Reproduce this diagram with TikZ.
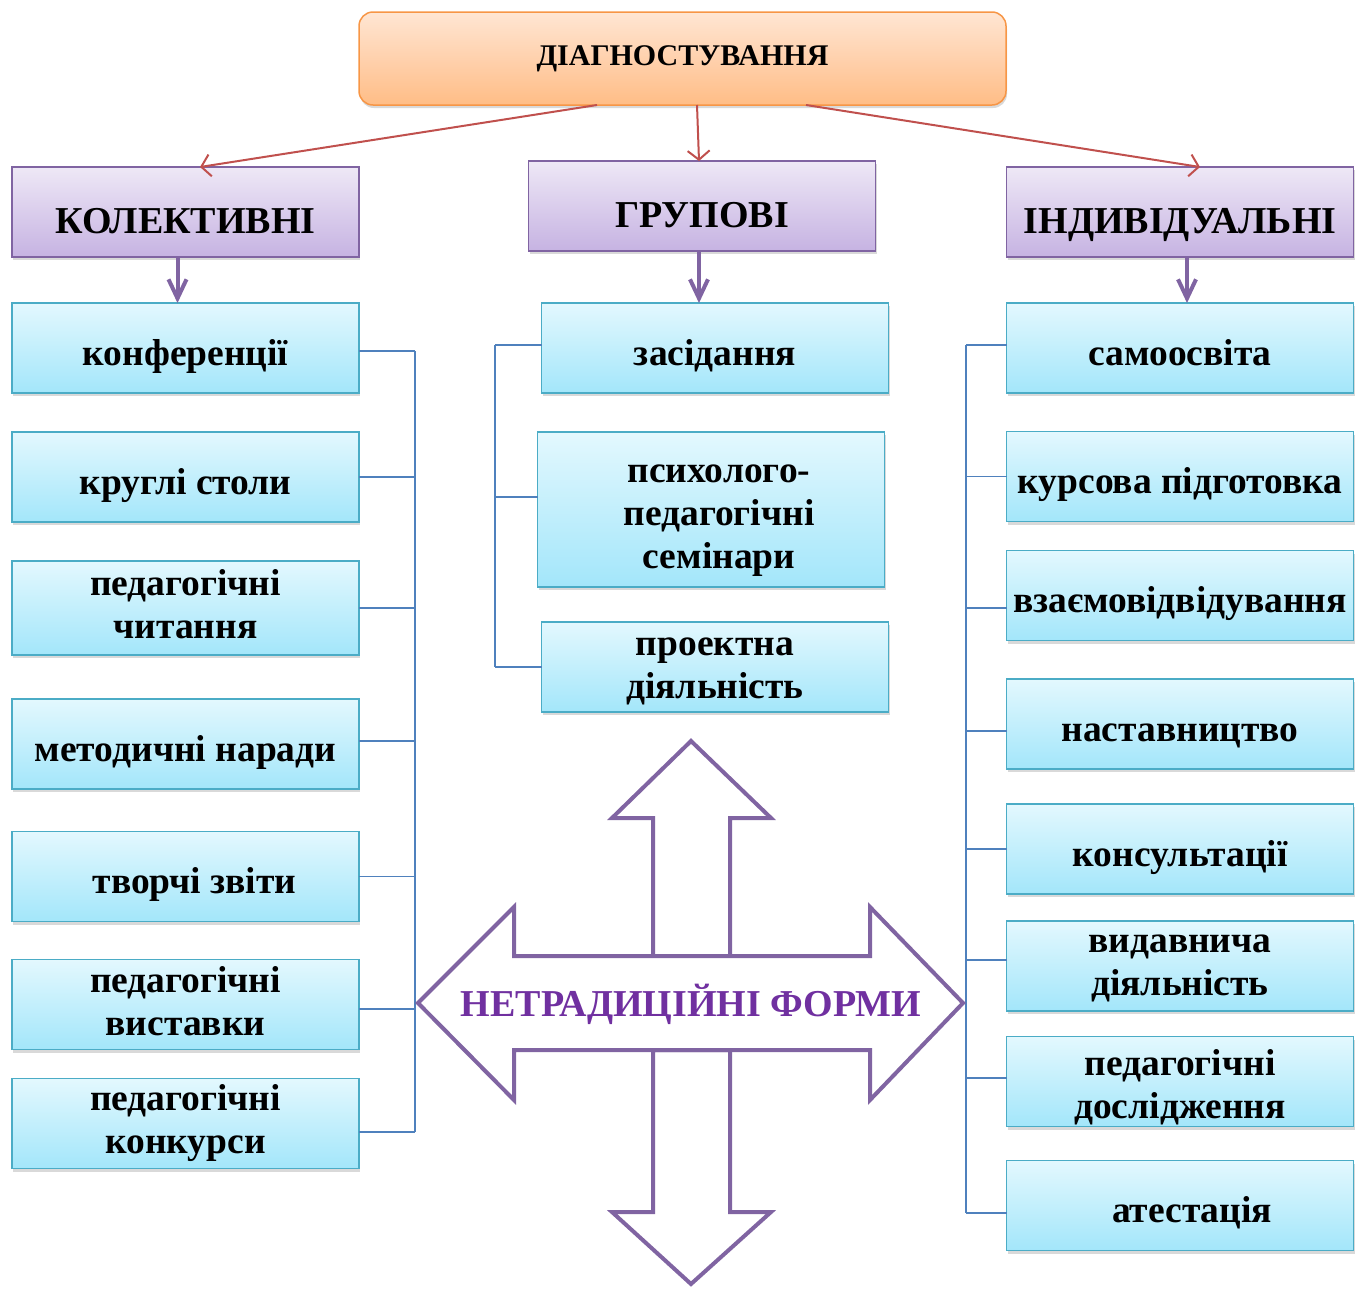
\documentclass[tikz,border=0pt]{standalone}
\usepackage{fontspec}
\setmainfont{Liberation Serif}
\usepackage[HTML]{xcolor}
\usepackage{tikz}
\usetikzlibrary{positioning, arrows.meta, calc, shadows}

\definecolor{aqualine}{HTML}{4BACC6}
\definecolor{aquatop}{HTML}{E3F8FE}
\definecolor{aquabot}{HTML}{A3E6FA}
\definecolor{lilacline}{HTML}{8064A2}
\definecolor{lilactop}{HTML}{EEE8F6}
\definecolor{lilacbot}{HTML}{C6B3E2}
\definecolor{peachline}{HTML}{F79646}
\definecolor{peachtop}{HTML}{FFE6D3}
\definecolor{peachbot}{HTML}{FFBD86}
\definecolor{redline}{HTML}{C0504D}
\definecolor{bracketblue}{HTML}{4F81BD}
\definecolor{netrviolet}{HTML}{7030A0}

\begin{document}
\begin{tikzpicture}[x=1pt,y=-1pt,
  formbox/.style={draw=aqualine, line width=1.5pt, top color=aquatop, bottom color=aquabot,
    minimum width=347pt, minimum height=90pt, inner sep=0pt, outer sep=0pt, align=center,
    font=\bfseries\fontsize{37.5}{43}\selectfont,
    drop shadow={opacity=0.3, shadow xshift=1pt, shadow yshift=-3pt}},
  oneline/.style={text height=34pt, text depth=0pt},
  lastbase/.style={text height=#1, text depth=0pt},
  kindbox/.style={formbox, draw=lilacline, top color=lilactop, bottom color=lilacbot,
    font=\bfseries\fontsize{38}{42}\selectfont, text height=42pt, text depth=0pt},
  topbox/.style={formbox, draw=peachline, top color=peachtop, bottom color=peachbot,
    rounded corners=14pt, minimum width=647pt, minimum height=93pt,
    font=\bfseries\fontsize{30}{34}\selectfont},
  redarrow/.style={draw=redline, line width=2pt, -{Straight Barb[length=9pt,width=22pt]}},
  lilacarrow/.style={draw=lilacline, line width=4pt, -{Straight Barb[length=19pt,width=18pt]}},
  bracket/.style={draw=bracketblue, line width=1.5pt},
  crossline/.style={draw=lilacline, line width=4pt, fill=white, line join=miter}
]
\useasboundingbox (0,0) rectangle (1362,1288);

% top and the three kinds
\node[topbox] (diag) at (682.5,58.5) {ДІАГНОСТУВАННЯ};
\node[kindbox] (kol) at (185.5,212) {КОЛЕКТИВНІ};
\node[kindbox] (grup) at (702,206) {ГРУПОВІ};
\node[kindbox] (ind) at (1180,212) {ІНДИВІДУАЛЬНІ};

\draw[redarrow] ($(diag.south)+(-85.5,0)$) -- ($(kol.north)+(14.5,0)$);
\draw[redarrow] ($(diag.south)+(14.5,0)$) -- ($(grup.north)+(-3,0)$);
\draw[redarrow] ($(diag.south)+(123.5,0)$) -- ($(ind.north)+(20,0)$);

% collective forms
\node[formbox, oneline] (k1) at (185.5,348) {конференції};
\node[formbox, oneline] (k2) at (185.5,477) {круглі столи};
\node[formbox, minimum height=94pt, lastbase=60pt] (k3) at (185.5,608) {педагогічні\\читання};
\node[formbox, oneline] (k4) at (185.5,744) {методичні наради};
\node[formbox, oneline] (k5) at (185.5,876.5) {\hspace*{18pt}творчі звіти};
\node[formbox, lastbase=61pt] (k6) at (185.5,1004.5) {педагогічні\\виставки};
\node[formbox, lastbase=59pt] (k7) at (185.5,1123.5) {педагогічні\\конкурси};

% group forms
\node[formbox, oneline] (g1) at (715,348) {засідання};
\node[formbox, minimum height=155pt, lastbase=117pt] (g2) at (711,509.5) {\hspace*{16pt}психолого-\\\hspace*{16pt}педагогічні\\\hspace*{16pt}семінари};
\node[formbox, lastbase=62pt] (g3) at (715,667) {проектна\\діяльність};

% individual forms
\node[formbox, oneline] (i1) at (1180,348) {самоосвіта};
\node[formbox, oneline] (i2) at (1180,476.5) {курсова підготовка};
\node[formbox, oneline] (i3) at (1180,595.5) {взаємовідвідування};
\node[formbox, oneline] (i4) at (1180,724) {наставництво};
\node[formbox, oneline] (i5) at (1180,849) {консультації};
\node[formbox, lastbase=58pt] (i6) at (1180,966) {видавнича\\діяльність};
\node[formbox, lastbase=73pt] (i7) at (1180,1081.5) {педагогічні\\дослідження};
\node[formbox, oneline] (i8) at (1180,1205.5) {\hspace*{24pt}атестація};

\draw[lilacarrow] ($(kol.south)+(-8,0)$) -- ($(k1.north)+(-8,0)$);
\draw[lilacarrow] ($(grup.south)+(-3,0)$) -- ($(g1.north)+(-16,0)$);
\draw[lilacarrow] ($(ind.south)+(7,0)$) -- ($(i1.north)+(7,0)$);

% brackets
\coordinate (lb) at (415,0);
\coordinate (mb) at (495,0);
\coordinate (rb) at (966,0);

\draw[bracket] ($(k1.east -| lb)+(0,3)$) -- ($(k7.east -| lb)+(0,8.5)$);
\draw[bracket] ($(k1.east)+(0,3)$) -- ($(k1.east -| lb)+(0,3)$);
\draw[bracket] (k2.east) -- (k2.east -| lb);
\draw[bracket] (k3.east) -- (k3.east -| lb);
\draw[bracket] ($(k4.east)+(0,-3)$) -- ($(k4.east -| lb)+(0,-3)$);
\draw[bracket] (k5.east) -- (k5.east -| lb);
\draw[bracket] ($(k6.east)+(0,4.5)$) -- ($(k6.east -| lb)+(0,4.5)$);
\draw[bracket] ($(k7.east)+(0,8.5)$) -- ($(k7.east -| lb)+(0,8.5)$);

\draw[bracket] ($(g1.west -| mb)+(0,-3)$) -- (g3.west -| mb);
\draw[bracket] ($(g1.west)+(0,-3)$) -- ($(g1.west -| mb)+(0,-3)$);
\draw[bracket] ($(g2.west)+(0,-12.5)$) -- ($(g2.west -| mb)+(0,-12.5)$);
\draw[bracket] (g3.west) -- (g3.west -| mb);

\draw[bracket] ($(i1.west -| rb)+(0,-3)$) -- ($(i8.west -| rb)+(0,7.5)$);
\draw[bracket] ($(i1.west)+(0,-3)$) -- ($(i1.west -| rb)+(0,-3)$);
\draw[bracket] (i2.west) -- (i2.west -| rb);
\draw[bracket] ($(i3.west)+(0,12.5)$) -- ($(i3.west -| rb)+(0,12.5)$);
\draw[bracket] ($(i4.west)+(0,7)$) -- ($(i4.west -| rb)+(0,7)$);
\draw[bracket] (i5.west) -- (i5.west -| rb);
\draw[bracket] ($(i6.west)+(0,-6)$) -- ($(i6.west -| rb)+(0,-6)$);
\draw[bracket] ($(i7.west)+(0,-3.5)$) -- ($(i7.west -| rb)+(0,-3.5)$);
\draw[bracket] ($(i8.west)+(0,7.5)$) -- ($(i8.west -| rb)+(0,7.5)$);

% cross of four arrows
\draw[crossline] (691,741) -- (771,818) -- (730,818) -- (730,956) -- (653,956) -- (653,818) -- (612,818) -- cycle;
\draw[crossline] (653,1050) -- (730,1050) -- (730,1212) -- (771,1212) -- (691,1284) -- (612,1212) -- (653,1212) -- cycle;
\draw[crossline] (418,1003) -- (514,907) -- (514,956) -- (870,956) -- (870,907) -- (963,1003)
  -- (870,1100) -- (870,1050) -- (514,1050) -- (514,1100) -- cycle;
\node[text=netrviolet, font=\bfseries\fontsize{38}{42}\selectfont] (netr) at (691,1004) {НЕТРАДИЦІЙНІ ФОРМИ};
\end{tikzpicture}
\end{document}
